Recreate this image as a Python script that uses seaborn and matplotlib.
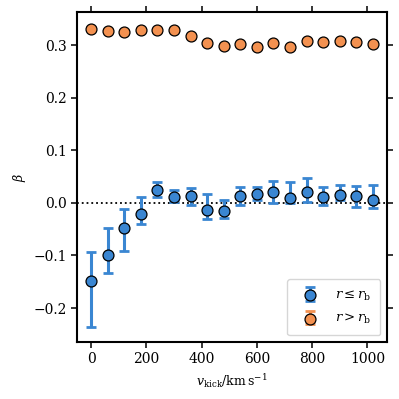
import numpy as np
import pandas as pd
import matplotlib
matplotlib.use("Agg")
import matplotlib.pyplot as plt
import seaborn as sns

# kick velocities (km/s)
v_kick = [0, 60, 120, 180, 240, 300, 360, 420, 480, 540, 600, 660, 720, 780, 840, 900, 960, 1020]

# r <= r_b : median and percentile range
beta_in = [-0.148, -0.099, -0.048, -0.021, 0.025, 0.012, 0.013, -0.013, -0.015, 0.014,
           0.017, 0.020, 0.009, 0.020, 0.012, 0.016, 0.014, 0.005]
beta_in_hi = [-0.093, -0.047, -0.012, 0.012, 0.039, 0.024, 0.029, 0.017, 0.005, 0.030,
              0.031, 0.041, 0.040, 0.047, 0.031, 0.034, 0.033, 0.034]
beta_in_lo = [-0.236, -0.134, -0.092, -0.040, 0.011, 0.001, -0.003, -0.030, -0.029, -0.004,
              0.006, 0.000, -0.001, 0.001, -0.003, 0.005, -0.007, -0.010]

# r > r_b
beta_out = [0.332, 0.328, 0.326, 0.329, 0.329, 0.330, 0.317, 0.304, 0.299, 0.302,
            0.296, 0.304, 0.297, 0.309, 0.306, 0.308, 0.306, 0.303]
beta_out_hi = [b + 0.003 for b in beta_out]
beta_out_lo = [b - 0.003 for b in beta_out]

labels = [r"$r \leq r_\mathrm{b}$", r"$r > r_\mathrm{b}$"]
colours = ["#3a86d2", "#f39150"]

sns.set_style("ticks", {"axes.edgecolor": "black", "xtick.color": "black",
                        "ytick.color": "black", "text.color": "black",
                        "axes.labelcolor": "black"})
plt.rcParams['font.family'] = ['DejaVu Serif']
plt.rcParams['mathtext.fontset'] = 'dejavuserif'
plt.rcParams['font.size'] = 10

df = pd.DataFrame({"v": v_kick * 2,
                   "beta": beta_in + beta_out,
                   "hi": beta_in_hi + beta_out_hi,
                   "lo": beta_in_lo + beta_out_lo,
                   "group": [labels[0]] * len(v_kick) + [labels[1]] * len(v_kick)})

fig = plt.figure(figsize=(3.99, 3.99), dpi=100)
ax = fig.add_axes([0.193, 0.143, 0.777, 0.827])

ax.axhline(0, color="k", ls=":", lw=1.3, zorder=1)

handles = []
for lab, col in zip(labels, colours):
    sub = df[df.group == lab]
    eb = ax.errorbar(sub.v, sub.beta, yerr=[sub.beta - sub.lo, sub.hi - sub.beta],
                     fmt="none", ecolor=col, elinewidth=2.2, capsize=3.5, capthick=2,
                     zorder=2)
    n_before = len(ax.collections)
    sns.scatterplot(data=sub, x="v", y="beta", color=col, s=62, edgecolor="k",
                    linewidth=0.9, ax=ax, legend=False, zorder=3)
    sc = ax.collections[n_before]
    handles.append((eb, sc))

ax.set_xlabel(r"$v_\mathrm{kick}/\mathrm{km\,s^{-1}}$", fontsize=9)
ax.set_ylabel(r"$\beta$", fontsize=9)
ax.set_xticks([0, 200, 400, 600, 800, 1000])
ax.set_yticks([-0.2, -0.1, 0.0, 0.1, 0.2, 0.3])
ax.tick_params(top=True, right=True, labeltop=False, labelright=False,
               direction="out", length=4, width=1.1, labelsize=10)
for s in ax.spines.values():
    s.set_linewidth(1.5)
    s.set_visible(True)

ax.legend(handles, labels, loc="lower right", fontsize=9.5, frameon=True,
          handletextpad=0.9, borderpad=0.7, labelspacing=0.7, edgecolor="#cccccc")

fig.savefig("out.png", dpi=100)
